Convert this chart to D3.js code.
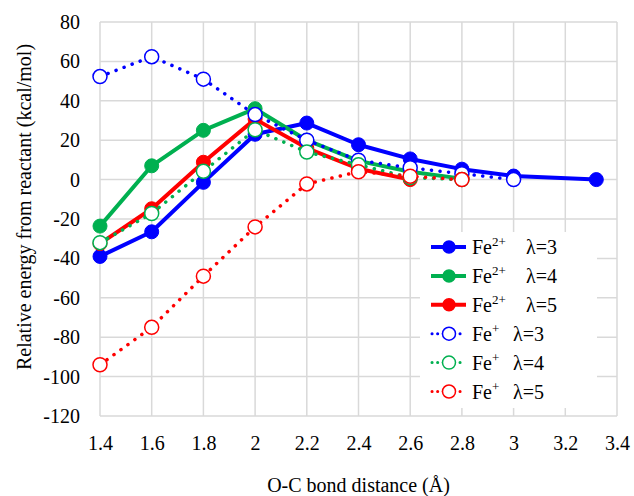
<!DOCTYPE html>
<html>
<head>
<meta charset="utf-8">
<script src="https://cdn.jsdelivr.net/npm/d3@7"></script>
<style>
  body { margin: 0; background: #fff; }
  #chart svg text, #chart svg tspan { font-family: 'Liberation Serif', 'Times New Roman', Times !important; }
</style>
</head>
<body>
<div id="chart"></div>
<script>
// Data
const xFull = [1.4, 1.6, 1.8, 2.0, 2.2, 2.4, 2.6, 2.8, 3.0, 3.32];
const fe2L3 = [-39, -26.5, -1.4, 23, 28.7, 17.7, 10.5, 5.3, 1.8, 0];
const fe2L4 = [-23.6, 7, 25, 36, 20, 9.5, 4, 0.5];
const fe2L5 = [-32.5, -14.8, 8.8, 30.7, 16, 5.5, 0];
const fe1L3 = [52.3, 62.4, 51, 33, 20, 9.8, 6, 3, 0];
const fe1L4 = [-32, -17.2, 4.2, 25.3, 14, 7.5, 1, 0];
const fe1L5 = [-94, -75, -49, -24, -2.2, 4, 1.7, 0];

const xTicks = [1.4, 1.6, 1.8, 2.0, 2.2, 2.4, 2.6, 2.8, 3.0, 3.2, 3.4];
const yTicks = [-120, -100, -80, -60, -40, -20, 0, 20, 40, 60, 80];

const seriesList = [
  { ion: '2+', lambda: 3, values: fe2L3, color: '#0000ff', dotted: false },
  { ion: '2+', lambda: 4, values: fe2L4, color: '#00b050', dotted: false },
  { ion: '2+', lambda: 5, values: fe2L5, color: '#ff0000', dotted: false },
  { ion: '+', lambda: 3, values: fe1L3, color: '#0000ff', dotted: true },
  { ion: '+', lambda: 4, values: fe1L4, color: '#00b050', dotted: true },
  { ion: '+', lambda: 5, values: fe1L5, color: '#ff0000', dotted: true }
];

const width = 634;
const height = 496;
const margin = { top: 22, right: 17, bottom: 80, left: 100 };
const innerW = width - margin.left - margin.right;
const innerH = height - margin.top - margin.bottom;
const serifName = 'Liberation Serif';

// Set serif font on a text node every way we can
function serifText(sel, size) {
  sel.attr('font-family', serifName)
    .attr('font-size', size);
  sel.each(function () {
    this.style.setProperty('font-family', "'Liberation Serif', 'Times New Roman', Times", 'important');
    this.style.setProperty('font-size', size + 'px');
  });
  return sel;
}

const svg = d3.select('#chart')
  .append('svg')
  .attr('width', width)
  .attr('height', height)
  .attr('font-family', serifName);

const g = svg.append('g')
  .attr('transform', `translate(${margin.left},${margin.top})`);

const xScale = d3.scaleLinear().domain([1.4, 3.4]).range([0, innerW]);
const yScale = d3.scaleLinear().domain([-120, 80]).range([innerH, 0]);

// Gridlines
g.append('g')
  .selectAll('line')
  .data(xTicks)
  .enter()
  .append('line')
  .attr('x1', d => xScale(d))
  .attr('x2', d => xScale(d))
  .attr('y1', 0)
  .attr('y2', innerH)
  .attr('stroke', '#d9d9d9')
  .attr('stroke-width', 1.5);

g.append('g')
  .selectAll('line')
  .data(yTicks)
  .enter()
  .append('line')
  .attr('x1', 0)
  .attr('x2', innerW)
  .attr('y1', d => yScale(d))
  .attr('y2', d => yScale(d))
  .attr('stroke', '#d9d9d9')
  .attr('stroke-width', 1.5);

// Axes (labels only, lines come from the grid)
const xAxis = d3.axisBottom(xScale)
  .tickValues(xTicks)
  .tickSize(0)
  .tickPadding(20)
  .tickFormat(d => String(+d.toFixed(1)));

const yAxis = d3.axisLeft(yScale)
  .tickValues(yTicks)
  .tickSize(0)
  .tickPadding(20)
  .tickFormat(d => String(d));

const xg = g.append('g')
  .attr('transform', `translate(0,${innerH})`)
  .call(xAxis)
  .attr('font-family', serifName)
  .attr('font-size', 20);
xg.select('.domain').remove();
serifText(xg.selectAll('text'), 20).attr('fill', '#000');

const yg = g.append('g')
  .call(yAxis)
  .attr('font-family', serifName)
  .attr('font-size', 20);
yg.select('.domain').remove();
serifText(yg.selectAll('text'), 20).attr('fill', '#000');

// Axis titles
serifText(svg.append('text'), 20)
  .attr('x', margin.left + innerW / 2)
  .attr('y', 492)
  .attr('text-anchor', 'middle')
  .text('O-C bond distance (Å)');

serifText(svg.append('text'), 20)
  .attr('transform', `translate(31,${margin.top + innerH / 2 - 12}) rotate(-90)`)
  .attr('text-anchor', 'middle')
  .text('Relative energy from reactant (kcal/mol)');

// Lines and markers
const line = d3.line()
  .x(d => xScale(d[0]))
  .y(d => yScale(d[1]));

seriesList.forEach(s => {
  const pts = s.values.map((v, i) => [xFull[i], v]);
  const path = g.append('path')
    .datum(pts)
    .attr('d', line)
    .attr('fill', 'none')
    .attr('stroke', s.color);
  if (s.dotted) {
    path.attr('stroke-width', 3.5)
      .attr('stroke-linecap', 'round')
      .attr('stroke-dasharray', '0.1,8.5');
  } else {
    path.attr('stroke-width', 4)
      .attr('stroke-linejoin', 'round');
  }

  g.append('g')
    .selectAll('circle')
    .data(pts)
    .enter()
    .append('circle')
    .attr('cx', d => xScale(d[0]))
    .attr('cy', d => yScale(d[1]))
    .attr('r', 7)
    .attr('fill', s.dotted ? '#fff' : s.color)
    .attr('stroke', s.color)
    .attr('stroke-width', s.dotted ? 1.5 : 1);
});

// Legend
const legend = svg.append('g');
legend.append('rect')
  .attr('x', 420)
  .attr('y', 232)
  .attr('width', 177)
  .attr('height', 176)
  .attr('fill', '#fff');

seriesList.forEach((s, i) => {
  const y = 247 + i * 28.9;
  const row = legend.append('g');
  const ln = row.append('line')
    .attr('x1', s.dotted ? 432 : 431)
    .attr('x2', s.dotted ? 461 : 466)
    .attr('y1', y)
    .attr('y2', y)
    .attr('stroke', s.color);
  if (s.dotted) {
    ln.attr('stroke-width', 3)
      .attr('stroke-linecap', 'round')
      .attr('stroke-dasharray', '0.1,5.5');
  } else {
    ln.attr('stroke-width', 4);
  }
  row.append('circle')
    .attr('cx', 449)
    .attr('cy', y)
    .attr('r', s.dotted ? 6.5 : 6)
    .attr('fill', s.dotted ? '#fff' : s.color)
    .attr('stroke', s.color)
    .attr('stroke-width', 1.5);

  const t = serifText(row.append('text'), 20)
    .attr('x', 472)
    .attr('y', y + 7);
  t.append('tspan').text('Fe');
  t.append('tspan')
    .attr('dy', -8)
    .attr('font-size', 13)
    .style('font-size', '13px')
    .text(s.ion);
  serifText(row.append('text'), 20)
    .attr('x', s.ion === '2+' ? 526 : 513)
    .attr('y', y + 7)
    .text(`λ=${s.lambda}`);
});
</script>
</body>
</html>
